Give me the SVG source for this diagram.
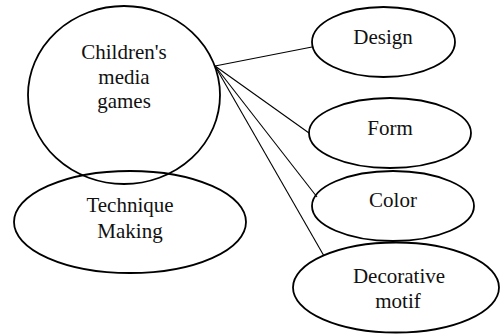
<svg xmlns="http://www.w3.org/2000/svg" width="502" height="334" viewBox="0 0 502 334">
  <style>
    .node { fill: none; stroke: #000; stroke-width: 1.8; }
    .label { font-family: 'Liberation Serif', 'Times New Roman', Times, 'DejaVu Serif', serif; font-size: 21px; fill: #111; text-anchor: middle; }
    .link { stroke: #000; stroke-width: 1.1; fill: none; }
  </style>
  <rect width="502" height="334" fill="#fff"/>

  <g id="connectors">
    <line class="link" x1="215" y1="66" x2="312" y2="47"/>
    <line class="link" x1="215" y1="66" x2="309" y2="133"/>
    <line class="link" x1="215" y1="66" x2="317" y2="197"/>
    <line class="link" x1="215" y1="66" x2="324" y2="256"/>
  </g>

  <g id="childrens-media-games">
    <ellipse class="node" cx="124" cy="95" rx="96" ry="89"/>
    <text class="label" font-family="Liberation Serif, serif" x="124" y="59">Children's</text>
    <text class="label" font-family="Liberation Serif, serif" x="124" y="84">media</text>
    <text class="label" font-family="Liberation Serif, serif" x="124" y="108">games</text>
  </g>

  <g id="technique-making">
    <ellipse class="node" cx="130" cy="222" rx="116" ry="51"/>
    <text class="label" font-family="Liberation Serif, serif" x="130" y="212">Technique</text>
    <text class="label" font-family="Liberation Serif, serif" x="130" y="238">Making</text>
  </g>

  <g id="design">
    <ellipse class="node" cx="383.5" cy="42" rx="71.5" ry="35"/>
    <text class="label" font-family="Liberation Serif, serif" x="383" y="44">Design</text>
  </g>

  <g id="form">
    <ellipse class="node" cx="390" cy="133" rx="81" ry="35"/>
    <text class="label" font-family="Liberation Serif, serif" x="390" y="135">Form</text>
  </g>

  <g id="color">
    <ellipse class="node" cx="393" cy="206" rx="81" ry="35"/>
    <text class="label" font-family="Liberation Serif, serif" x="393" y="207">Color</text>
  </g>

  <g id="decorative-motif">
    <ellipse class="node" cx="396" cy="287.5" rx="103" ry="45"/>
    <text class="label" font-family="Liberation Serif, serif" x="399" y="283">Decorative</text>
    <text class="label" font-family="Liberation Serif, serif" x="398" y="308">motif</text>
  </g>
</svg>
